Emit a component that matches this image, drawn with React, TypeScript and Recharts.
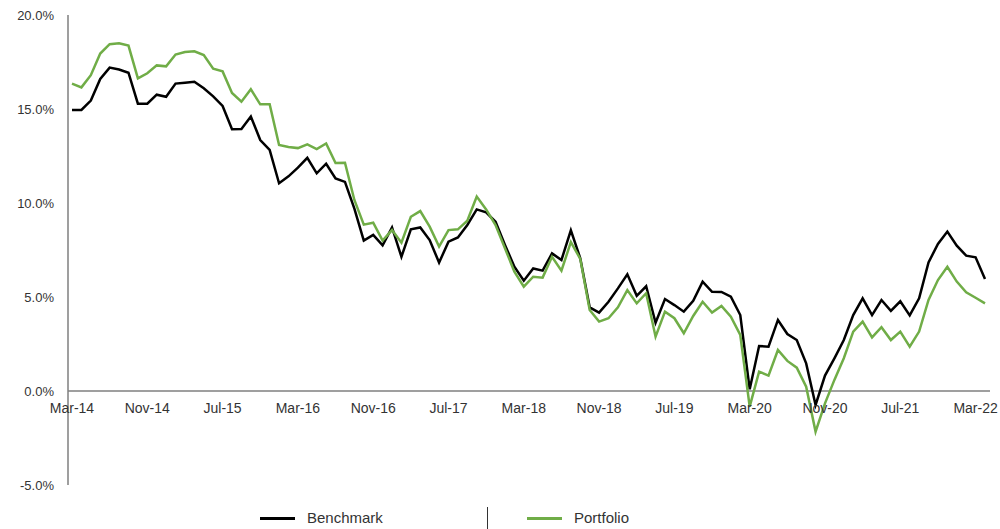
import React from "react";
import { LineChart, Line, XAxis, YAxis, ReferenceLine } from "recharts";

// monthly, Mar-14 .. Apr-22
const MONTHS = ["Jan", "Feb", "Mar", "Apr", "May", "Jun", "Jul", "Aug", "Sep", "Oct", "Nov", "Dec"];
const labels: string[] = [];
for (let i = 0; i < 98; i++) {
  const m = (2 + i) % 12;
  const y = 14 + Math.floor((2 + i) / 12);
  labels.push(`${MONTHS[m]}-${y}`);
}

const benchmark = [
  14.95, 14.95, 15.45, 16.6, 17.2, 17.1, 16.93, 15.28, 15.28, 15.76,
  15.65, 16.35, 16.4, 16.45, 16.1, 15.67, 15.16, 13.92, 13.94, 14.6,
  13.35, 12.82, 11.05, 11.42, 11.88, 12.4, 11.58, 12.09, 11.31, 11.12,
  9.7, 8.0, 8.3, 7.75, 8.7, 7.14, 8.6, 8.7, 8.03, 6.83,
  7.94, 8.17, 8.83, 9.66, 9.5, 9.0, 7.77, 6.61, 5.87, 6.52,
  6.4, 7.32, 6.97, 8.55, 7.06, 4.45, 4.17, 4.75, 5.46, 6.21,
  5.06, 5.57, 3.63, 4.89, 4.57, 4.22, 4.8, 5.82, 5.28, 5.27,
  5.02, 4.04, 0.09, 2.39, 2.36, 3.78, 3.03, 2.71, 1.47, -0.74,
  0.82, 1.74, 2.71, 4.04, 4.93, 4.04, 4.84, 4.26, 4.77, 4.02,
  4.93, 6.84, 7.82, 8.48, 7.73, 7.2, 7.11, 5.96,
];

const portfolio = [
  16.35, 16.15, 16.8, 17.95, 18.45, 18.5, 18.37, 16.63, 16.9, 17.32,
  17.27, 17.9, 18.03, 18.07, 17.87, 17.14, 17.0, 15.85, 15.39, 16.05,
  15.25, 15.25, 13.09, 12.98, 12.92, 13.12, 12.87, 13.17, 12.13, 12.14,
  10.16, 8.85, 8.95, 8.0, 8.56, 7.89, 9.27, 9.57, 8.74, 7.68,
  8.56, 8.6, 9.06, 10.34, 9.66, 8.83, 7.59, 6.35, 5.55, 6.08,
  6.03, 7.14, 6.4, 7.92, 7.03, 4.31, 3.69, 3.87, 4.45, 5.37,
  4.66, 5.2, 2.89, 4.22, 3.87, 3.07, 3.99, 4.75, 4.17, 4.52,
  3.95, 2.98, -0.83, 1.03, 0.82, 2.18, 1.6, 1.24, 0.23, -2.16,
  -0.66, 0.59, 1.74, 3.16, 3.69, 2.85, 3.39, 2.71, 3.16, 2.36,
  3.16, 4.84, 5.9, 6.61, 5.82, 5.25, 4.96, 4.66,
];

const yTicks = [-5, 0, 5, 10, 15, 20];

const data = labels.map((label, i) => ({
  label,
  benchmark: benchmark[i],
  portfolio: portfolio[i],
}));

const FONT = "'Liberation Sans', Arial, sans-serif";
const TEXT = "#333";
const PLOT_TOP = 15;
const PLOT_H = 470;
// distance between the bottom of the plot and the zero line
const ZERO_SHIFT = (PLOT_H * (0 - yTicks[0])) / (yTicks[yTicks.length - 1] - yTicks[0]);

function XTick(props: any) {
  const { x, y, payload } = props;
  return (
    <text x={x} y={y - ZERO_SHIFT + 14} textAnchor="middle" fill={TEXT} fontSize={14} fontFamily={FONT}>
      {payload.value}
    </text>
  );
}

export default function App() {
  return (
    <div style={{ position: "absolute", left: 0, top: 0, width: 1000, height: 529, background: "#fff", fontFamily: FONT }}>
      <LineChart width={1000} height={500} data={data} margin={{ top: PLOT_TOP, right: 10, left: 0, bottom: 0 }}>
        <XAxis
          dataKey="label"
          interval={7}
          axisLine={false}
          tickLine={false}
          height={15}
          padding={{ left: 4, right: 5 }}
          tick={<XTick />}
        />
        <YAxis
          width={68}
          domain={[-5, 20]}
          ticks={yTicks}
          tickFormatter={(v: number) => `${v.toFixed(1)}%`}
          axisLine={{ stroke: "#7f7f7f", strokeWidth: 1.5 }}
          tickLine={false}
          tickSize={6}
          tickMargin={8}
          tick={{ fill: TEXT, fontSize: 13, fontFamily: FONT }}
        />
        <ReferenceLine y={0} stroke="#7f7f7f" strokeWidth={1.5} />
        <Line
          dataKey="benchmark"
          name="Benchmark"
          stroke="#000000"
          strokeWidth={2.5}
          dot={false}
          type="linear"
          isAnimationActive={false}
        />
        <Line
          dataKey="portfolio"
          name="Portfolio"
          stroke="#70ad47"
          strokeWidth={2.5}
          dot={false}
          type="linear"
          isAnimationActive={false}
        />
      </LineChart>
      <div style={{ position: "absolute", left: 0, top: 500, width: 1000, height: 29, fontSize: 15, color: TEXT }}>
        <div style={{ position: "absolute", left: 260, top: 17, width: 35, height: 3, background: "#000" }} />
        <div style={{ position: "absolute", left: 307, top: 9 }}>Benchmark</div>
        <div style={{ position: "absolute", left: 487, top: 7, width: 1, height: 22, background: "#333" }} />
        <div style={{ position: "absolute", left: 527, top: 17, width: 35, height: 3, background: "#70ad47" }} />
        <div style={{ position: "absolute", left: 574, top: 9 }}>Portfolio</div>
      </div>
    </div>
  );
}
